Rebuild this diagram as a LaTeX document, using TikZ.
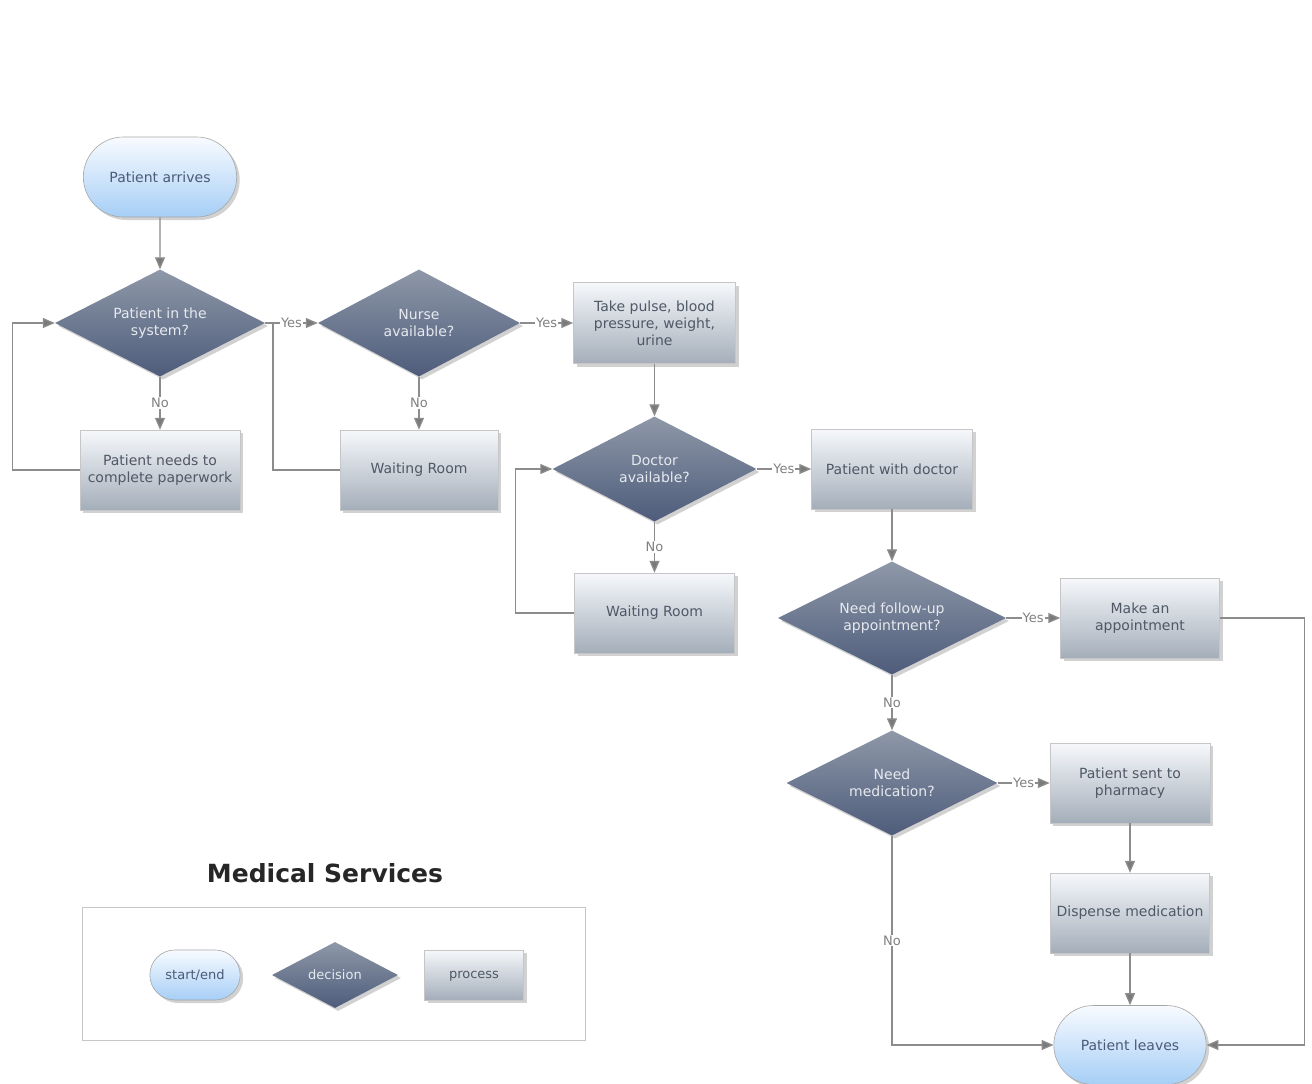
\documentclass[tikz,border=0pt]{standalone}
\usepackage{fontspec}
\setmainfont{DejaVu Sans}
\usetikzlibrary{shapes.geometric,shapes.misc,shadows,arrows.meta}
\definecolor{linegray}{HTML}{8C8C8C}
\definecolor{arrowgray}{HTML}{7A7A7A}
\definecolor{txtdark}{HTML}{4E5866}
\definecolor{txtblue}{HTML}{4A5A78}
\definecolor{dtop}{HTML}{8E98A8}
\definecolor{dmid}{HTML}{808B9D}
\definecolor{dbot}{HTML}{4E5C7B}
\definecolor{dtxt}{HTML}{E6EAEF}
\definecolor{ptop}{HTML}{F6F8FB}
\definecolor{pbot}{HTML}{A4AEBA}
\definecolor{stop}{HTML}{F8FBFF}
\definecolor{sbot}{HTML}{A6CEF6}
\tikzset{
  shad/.style={drop shadow={shadow xshift=3pt,shadow yshift=-3pt,opacity=0.45,fill=gray!80}},
  startend/.style={rounded rectangle, minimum width=160pt, minimum height=80pt, draw=gray!70, line width=0.6pt,
    top color=stop, bottom color=sbot, shad, text=txtblue, font=\fontsize{14}{17}\selectfont, align=center},
  decision/.style={diamond, aspect=2, inner sep=0pt, minimum width=210pt, minimum height=107pt,
    top color=dtop, middle color=dmid, bottom color=dbot, shad, text=dtxt, font=\fontsize{14}{17}\selectfont, align=center},
  process/.style={rectangle, minimum width=160pt, minimum height=80pt, draw=gray!45, line width=0.5pt,
    top color=ptop, bottom color=pbot, shad, text=txtdark, font=\fontsize{14}{17}\selectfont, align=center, inner sep=1pt},
  conn/.style={draw=linegray, line width=1.3pt, -{Triangle[width=10pt,length=12pt,fill=arrowgray]}},
  plain/.style={draw=linegray, line width=1.3pt},
  lbl/.style={fill=white, inner sep=1pt, text=gray, font=\fontsize{13}{15}\selectfont}
}
\begin{document}
\begin{tikzpicture}[x=1pt,y=-1pt]
\useasboundingbox[fill=white] (0,0) rectangle (1312,1084);

% nodes
\node[startend] (start) at (160,177) {Patient arrives};
\node[decision] (d1) at (160,323) {Patient in the\\system?};
\node[process] (p1) at (160,470) {Patient needs to\\complete paperwork};
\node[decision, minimum width=202pt] (d2) at (419,323) {Nurse\\available?};
\node[process, minimum width=158pt] (w1) at (419,470) {Waiting Room};
\node[process, minimum width=162pt, minimum height=81pt] (p2) at (654.5,323) {Take pulse, blood\\pressure, weight,\\urine};
\node[decision, minimum width=204pt, minimum height=105pt] (d3) at (654.5,469) {Doctor\\available?};
\node[process, minimum width=161pt] (p3) at (892,469) {Patient with doctor};
\node[process] (w2) at (654.5,613) {Waiting Room};
\node[decision, minimum width=228pt, minimum height=113pt] (d4) at (892,618) {Need follow-up\\appointment?};
\node[process, minimum width=159pt] (p4) at (1140,618) {Make an\\appointment};
\node[decision, minimum width=211pt, minimum height=105pt] (d5) at (892,783) {Need\\medication?};
\node[process] (p5) at (1130,783) {Patient sent to\\pharmacy};
\node[process, minimum width=159pt] (p6) at (1130,913) {Dispense medication};
\node[startend, minimum width=159pt, minimum height=79pt] (end) at (1130,1045) {Patient leaves};

% connectors
\draw[conn] (start) -- (d1);
\draw[conn] (d1.south) -- node[lbl] {No} (p1.north);
\draw[conn] (p1.west) -- ++(-67,0) |- (d1.west);
\coordinate (join1) at (273,323);
\draw[conn] (d1.east) -- node[lbl] {Yes} (d2.west);
\draw[plain] (w1.west) -| (join1);
\draw[conn] (d2.south) -- node[lbl] {No} (w1.north);
\draw[conn] (d2.east) -- node[lbl] {Yes} (p2.west);
\draw[conn] (p2.south) -- (d3.north);
\draw[conn] (d3.east) -- node[lbl] {Yes} (p3.west);
\draw[conn] (d3.south) -- node[lbl] {No} (w2.north);
\draw[conn] (w2.west) -- ++(-59,0) |- (d3.west);
\draw[conn] (p3.south) -- (d4.north);
\draw[conn] (d4.east) -- node[lbl] {Yes} (p4.west);
\draw[conn] (d4.south) -- node[lbl] {No} (d5.north);
\draw[conn] (d5.east) -- node[lbl] {Yes} (p5.west);
\draw[conn] (p5.south) -- (p6.north);
\draw[conn] (p6.south) -- (end.north);
\draw[conn] (d5.south) |- node[lbl, pos=0.25] {No} (end.west);
\draw[conn] (p4.east) -- ++(85,0) |- (end.east);

% legend
\node[font=\bfseries\fontsize{25}{30}\selectfont, text=black!85] (title) at (325,873) {Medical Services};
\node[draw=gray!45, line width=0.6pt, minimum width=503pt, minimum height=133pt] (legend) at (333.5,973.5) {};
\node[startend, minimum width=97pt, minimum height=50pt, font=\fontsize{13}{15}\selectfont] (lse) at (195,975) {start/end};
\node[decision, minimum width=126pt, minimum height=66pt, font=\fontsize{13}{15}\selectfont] (ldec) at (335,975) {decision};
\node[process, minimum width=99pt, minimum height=50pt, font=\fontsize{13}{15}\selectfont] (lproc) at (474,975) {\strut process};
\end{tikzpicture}
\end{document}
